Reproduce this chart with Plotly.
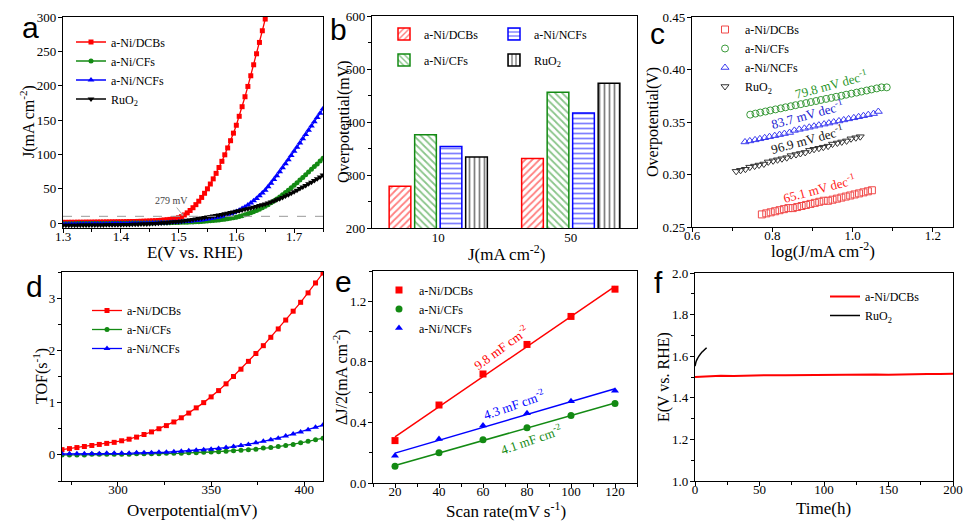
import numpy as np
import plotly.graph_objects as go

W, H = 974, 528
OFF = 8  # the page body offsets the figure by 8 px
def px(x): return (x - OFF) / W
def py(y): return 1 - (y - OFF) / H

RED = "#ff0000"; GREEN = "#138a13"; BLUE = "#0000ff"; BLACK = "#000000"
SERIF = "Liberation Serif"; SANS = "Liberation Sans"

# ---------------- (a) LSV ----------------
pot_a = [1.300,1.305,1.310,1.315,1.320,1.325,1.330,1.335,1.340,1.345,1.350,1.355,1.360,1.365,1.370,1.375,1.380,1.385,1.390,1.395,
         1.400,1.405,1.410,1.415,1.420,1.425,1.430,1.435,1.440,1.445,1.450,1.455,1.460,1.465,1.470,1.475,1.480,1.485,1.490,1.495,
         1.500,1.505,1.510,1.515,1.520,1.525,1.530,1.535,1.540,1.545,1.550,1.555,1.560,1.565,1.570,1.575,1.580,1.585,1.590,1.595,
         1.600,1.605,1.610,1.615,1.620,1.625,1.630,1.635,1.640,1.645,1.650,1.655,1.660,1.665,1.670,1.675,1.680,1.685,1.690,1.695,
         1.700,1.705,1.710,1.715,1.720,1.725,1.730,1.735,1.740,1.745,1.750]
j_dcbs_a = [1.2,1.2,1.3,1.3,1.3,1.4,1.4,1.4,1.5,1.5,1.5,1.6,1.6,1.7,1.7,1.8,1.8,1.9,1.9,2.0,2.0,
            2.1,2.2,2.3,2.4,2.5,2.6,2.7,2.9,3.0,3.2,
            3.4,3.6,3.9,4.2,4.6,5.0,5.5,6.1,6.9,7.9,
            9.5,12,15,18.5,22.5,27,32,37.5,43.5,50,
            57,64.5,72.5,81,90,99.5,109.5,120,131,142.5,
            155.5,169.5,184,199,214.5,230.5,246.5,263,280,297,314]
j_cfs_a = [-0.8,-0.8,-0.7,-0.7,-0.7,-0.6,-0.6,-0.6,-0.5,-0.5,-0.5,-0.4,-0.4,-0.4,-0.3,-0.3,-0.3,-0.2,-0.2,-0.2,-0.1,
           -0.1,0,0,0.1,0.1,0.2,0.2,0.3,0.3,0.4,
           0.4,0.5,0.5,0.6,0.7,0.7,0.8,0.9,1.0,1.1,
           1.2,1.3,1.5,1.6,1.8,2.0,2.2,2.5,2.8,3.1,
           3.4,3.8,4.2,4.7,5.2,5.8,6.4,7.1,7.9,8.8,
           9.8,11,12.3,13.7,15.2,16.8,18.5,20.4,22.4,24.6,
           27,29.6,32.3,35.2,38.2,41.3,44.6,48,51.6,55.3,
           59,62.8,66.6,70.5,74.4,78.3,82.3,86.3,90.4,94.5]
j_ncfs_a = [-1.5,-1.5,-1.5,-1.4,-1.4,-1.4,-1.3,-1.3,-1.3,-1.2,-1.2,-1.2,-1.1,-1.1,-1.0,-1.0,-1.0,-0.9,-0.9,-0.8,-0.8,
            -0.7,-0.7,-0.6,-0.5,-0.5,-0.4,-0.3,-0.2,-0.1,0,
            0.1,0.2,0.3,0.5,0.6,0.8,1.0,1.2,1.4,1.7,
            2.0,2.3,2.6,3.0,3.4,3.8,4.3,4.8,5.4,6.0,
            6.7,7.4,8.2,9.1,10.1,11.2,12.4,13.8,15.3,17,
            19,21.2,23.7,26.4,29.3,32.5,36,39.8,43.8,48,
            53,58,63.5,69,74.8,80.6,86.5,92.4,98.4,104.5,
            110.6,116.7,122.8,129,135.2,141.4,147.6,153.8,160,166.5]
j_ruo2_a = [-3.0,-3.0,-3.0,-2.9,-2.9,-2.9,-2.8,-2.8,-2.8,-2.7,-2.7,-2.6,-2.6,-2.5,-2.5,-2.4,-2.4,-2.3,-2.2,-2.2,-2.1,
            -2.0,-1.9,-1.8,-1.7,-1.6,-1.5,-1.3,-1.2,-1.0,-0.8,
            -0.6,-0.4,-0.1,0.2,0.5,0.8,1.2,1.6,2.0,2.5,
            3.0,3.5,4.1,4.7,5.3,6.0,6.7,7.4,8.1,8.9,
            9.6,10.4,11.2,12.0,12.8,13.6,14.5,15.4,16.3,17.2,
            18.1,19.1,20.1,21.1,22.2,23.3,24.4,25.6,26.8,28,
            29.4,30.9,32.4,34,35.7,37.5,39.4,41.4,43.5,45.7,
            48,50.3,52.6,54.9,57.3,59.7,62.2,64.7,67.3,70]
j_ref_a = 10
eta10_label = "279 mV"
eta10_pot = 1.508

# ---------------- (b) overpotential bars ----------------
cats_b = ["10", "50"]
eta_dcbs_b = [279, 331]
eta_cfs_b = [376, 456]
eta_ncfs_b = [354, 417]
eta_ruo2_b = [334, 473]

# ---------------- (c) Tafel ----------------
lx_dcbs = [0.774,0.785,0.796,0.807,0.818,0.829,0.840,0.851,0.862,0.873,0.884,0.895,0.906,0.917,0.928,0.939,0.950,0.961,0.972,0.983,0.994,1.005,1.016,1.027,1.038,1.048]
ly_dcbs = [0.262,0.263,0.264,0.265,0.266,0.267,0.268,0.268,0.269,0.270,0.271,0.272,0.273,0.274,0.275,0.275,0.276,0.277,0.278,0.279,0.280,0.281,0.282,0.283,0.284,0.285]
lx_cfs = [0.745,0.758,0.770,0.783,0.795,0.808,0.821,0.833,0.846,0.858,0.871,0.884,0.896,0.909,0.921,0.934,0.947,0.959,0.972,0.984,0.997,1.010,1.022,1.035,1.047,1.060,1.072,1.085]
ly_cfs = [0.357,0.358,0.359,0.360,0.361,0.362,0.363,0.364,0.365,0.366,0.367,0.368,0.369,0.370,0.371,0.372,0.373,0.374,0.375,0.376,0.377,0.378,0.379,0.380,0.381,0.382,0.383,0.383]
lx_ncfs = [0.732,0.744,0.757,0.769,0.781,0.793,0.806,0.818,0.830,0.843,0.855,0.867,0.880,0.892,0.904,0.916,0.929,0.941,0.953,0.966,0.978,0.990,1.003,1.015,1.027,1.039,1.052,1.064]
ly_ncfs = [0.331,0.332,0.333,0.334,0.335,0.336,0.337,0.338,0.339,0.340,0.342,0.343,0.344,0.345,0.346,0.347,0.348,0.349,0.350,0.351,0.352,0.353,0.354,0.355,0.356,0.357,0.358,0.360]
lx_ruo2 = [0.710,0.721,0.733,0.744,0.756,0.767,0.779,0.790,0.802,0.813,0.824,0.836,0.847,0.859,0.870,0.882,0.893,0.904,0.916,0.927,0.939,0.950,0.962,0.973,0.985,0.996,1.008,1.019]
ly_ruo2 = [0.303,0.304,0.305,0.307,0.308,0.309,0.310,0.312,0.313,0.314,0.315,0.316,0.318,0.319,0.320,0.321,0.323,0.324,0.325,0.326,0.327,0.329,0.330,0.331,0.332,0.334,0.335,0.336]
tafel_labels = ["79.8", "83.7", "96.9", "65.1"]

# ---------------- (d) TOF ----------------
eta_d = [270,274,278,282,286,290,294,298,302,306,310,314,318,322,326,330,334,338,342,346,350,354,358,362,366,370,374,378,382,386,390,394,398,402,406,410]
tof_dcbs = [0.10,0.12,0.14,0.16,0.18,0.20,0.22,0.24,0.27,0.30,0.34,0.39,0.44,0.50,0.56,0.63,0.71,0.80,0.90,1.00,1.11,1.23,1.36,1.50,1.64,1.79,1.94,2.09,2.25,2.41,2.58,2.75,2.92,3.10,3.29,3.48]
tof_cfs = [0.00,0.00,0.00,0.00,0.01,0.01,0.01,0.01,0.01,0.01,0.02,0.02,0.02,0.02,0.03,0.03,0.03,0.04,0.04,0.05,0.055,0.06,0.07,0.08,0.09,0.10,0.11,0.13,0.14,0.16,0.18,0.20,0.23,0.26,0.29,0.32]
tof_ncfs = [0.02,0.02,0.02,0.02,0.02,0.02,0.03,0.03,0.03,0.03,0.04,0.04,0.04,0.05,0.05,0.06,0.07,0.08,0.09,0.10,0.11,0.12,0.14,0.16,0.18,0.20,0.23,0.26,0.29,0.32,0.36,0.40,0.44,0.48,0.53,0.57]

# ---------------- (e) Cdl ----------------
scan_e = [20, 40, 60, 80, 100, 120]
dj_dcbs = [0.28, 0.515, 0.72, 0.915, 1.10, 1.28]
dj_cfs = [0.11, 0.20, 0.285, 0.365, 0.445, 0.525]
dj_ncfs = [0.18, 0.29, 0.38, 0.46, 0.54, 0.61]
cdl_labels = ["9.8", "4.3", "4.1"]

# ---------------- (f) stability ----------------
t_dcbs = [0,10,20,30,40,50,60,70,80,90,100,110,120,130,140,150,160,170,180,190,200]
e_dcbs = [1.500,1.504,1.506,1.505,1.507,1.509,1.509,1.508,1.509,1.510,1.511,1.511,1.511,1.512,1.512,1.511,1.513,1.514,1.514,1.515,1.516]
t_ruo2 = [0,0.5,1,2,3,4,5,6,7,8,9]
e_ruo2 = [1.552,1.566,1.577,1.590,1.600,1.609,1.617,1.623,1.629,1.635,1.641]

fig = go.Figure()

# (a)
for name, ys, col, sym, sz in [("a-Ni/DCBs", j_dcbs_a, RED, "square", 5),
                                ("a-Ni/CFs", j_cfs_a, GREEN, "circle", 5),
                                ("a-Ni/NCFs", j_ncfs_a, BLUE, "triangle-up", 6),
                                ("RuO<sub>2</sub>", j_ruo2_a, BLACK, "triangle-down", 6)]:
    fig.add_trace(go.Scatter(x=pot_a[:len(ys)], y=ys, mode="lines+markers", name=name,
                             line=dict(color=col, width=1.3), marker=dict(symbol=sym, size=sz, color=col),
                             xaxis="x", yaxis="y", legend="legend"))

# (b)
for name, ys, col, shp, lg in [("a-Ni/DCBs", eta_dcbs_b, RED, "/", "legend2"),
                                ("a-Ni/CFs", eta_cfs_b, GREEN, "\\", "legend2"),
                                ("a-Ni/NCFs", eta_ncfs_b, BLUE, "-", "legend3"),
                                ("RuO<sub>2</sub>", eta_ruo2_b, BLACK, "|", "legend3")]:
    fig.add_trace(go.Bar(x=cats_b, y=ys, name=name, legendgroup="b_" + name,
                         marker=dict(color="white", line=dict(color=col, width=1.5),
                                     pattern=dict(shape=shp, fgcolor=col, size=5, solidity=0.35)),
                         xaxis="x2", yaxis="y2", legend=lg))

# (c)
for name, xs, ys, col, sym in [("a-Ni/DCBs", lx_dcbs, ly_dcbs, "#f04848", "square-open"),
                                ("a-Ni/CFs", lx_cfs, ly_cfs, "#3a9a3a", "circle-open"),
                                ("a-Ni/NCFs", lx_ncfs, ly_ncfs, "#3c3cf0", "triangle-up-open"),
                                ("RuO<sub>2</sub>", lx_ruo2, ly_ruo2, "#333333", "triangle-down-open")]:
    fig.add_trace(go.Scatter(x=xs, y=ys, mode="markers", name=name,
                             marker=dict(symbol=sym, size=7, color=col, line=dict(width=1)),
                             xaxis="x3", yaxis="y3", legend="legend4"))

# (d)
for name, ys, col, sym, sz in [("a-Ni/DCBs", tof_dcbs, RED, "square", 5),
                                ("a-Ni/CFs", tof_cfs, GREEN, "circle", 5),
                                ("a-Ni/NCFs", tof_ncfs, BLUE, "triangle-up", 6)]:
    fig.add_trace(go.Scatter(x=eta_d, y=ys, mode="lines+markers", name=name,
                             line=dict(color=col, width=1.3), marker=dict(symbol=sym, size=sz, color=col),
                             xaxis="x4", yaxis="y4", legend="legend5"))

# (e)
for name, ys, col, sym in [("a-Ni/DCBs", dj_dcbs, RED, "square"),
                            ("a-Ni/CFs", dj_cfs, GREEN, "circle"),
                            ("a-Ni/NCFs", dj_ncfs, BLUE, "triangle-up")]:
    k, b = np.polyfit(scan_e, ys, 1)
    xfit = [min(scan_e), max(scan_e)]
    fig.add_trace(go.Scatter(x=xfit, y=[k * v + b for v in xfit], mode="lines", showlegend=False,
                             line=dict(color=col, width=1.5), xaxis="x5", yaxis="y5"))
    fig.add_trace(go.Scatter(x=scan_e, y=ys, mode="markers", name=name,
                             marker=dict(symbol=sym, size=7, color=col),
                             xaxis="x5", yaxis="y5", legend="legend6"))

# (f)
fig.add_trace(go.Scatter(x=t_dcbs, y=e_dcbs, mode="lines", name="a-Ni/DCBs", line=dict(color=RED, width=2),
                         xaxis="x6", yaxis="y6", legend="legend7"))
fig.add_trace(go.Scatter(x=t_ruo2, y=e_ruo2, mode="lines", name="RuO<sub>2</sub>", line=dict(color=BLACK, width=1.5, shape="spline"),
                         xaxis="x6", yaxis="y6", legend="legend7"))

TICKF = dict(family=SERIF, size=13, color="black")

def axis(domain, anchor, rng=None, dtick=None, tick0=None, minor=None, fmt=None, ticks="outside", standoff=0, **kw):
    d = dict(domain=domain, anchor=anchor, showline=True, mirror=True, linecolor="black", linewidth=1.3,
             ticks=ticks, ticklen=4, tickwidth=1.2, tickcolor="black", showgrid=False, zeroline=False,
             tickfont=TICKF, automargin=False, ticklabelstandoff=standoff)
    if rng is not None:
        d["range"] = rng
    if dtick is not None:
        d["dtick"] = dtick
    if tick0 is not None:
        d["tick0"] = tick0
    if minor is not None:
        d["minor"] = dict(dtick=minor, ticks="outside", ticklen=2.5, tickwidth=1, tickcolor="black")
    if fmt is not None:
        d["tickformat"] = fmt
    d.update(kw)
    return d

xa = [px(63), px(323)]; ya = [py(228), py(17)]
xb = [px(372), px(637)]; yb = [py(228), py(16)]
xc = [px(692), px(953)]; yc = [py(227), py(17)]
xd = [px(62), px(323)]; yd = [py(481), py(272)]
xe = [px(373), px(637)]; ye = [py(483), py(271)]
xf = [px(695), px(953)]; yf = [py(481), py(273)]

leg_common = dict(bgcolor="rgba(0,0,0,0)", font=dict(family=SERIF, size=12, color="black"),
                  xanchor="left", yanchor="top", tracegroupgap=0, itemwidth=30)
leg_b = dict(leg_common, traceorder="grouped", tracegroupgap=7)

XS = -8
fig.update_layout(
    width=W, height=H, margin=dict(l=0, r=0, t=0, b=0, autoexpand=False),
    plot_bgcolor="white", paper_bgcolor="white",
    font=dict(family=SERIF, size=13, color="black"),
    barmode="group", bargap=0.23, bargroupgap=0.15,
    xaxis=axis(xa, "y", [1.3, 1.75], dtick=0.1, tick0=1.3, minor=0.05, fmt=".1f", standoff=XS),
    yaxis=axis(ya, "x", [-7, 300], dtick=50, tick0=0, standoff=-1),
    xaxis2=axis(xb, "y2", [-0.5, 1.5], ticks="", type="category", standoff=-3),
    yaxis2=axis(yb, "x2", [200, 600], dtick=100, minor=50, standoff=-1),
    xaxis3=axis(xc, "y3", [0.6, 1.25], dtick=0.2, tick0=0.6, minor=0.1, fmt=".1f", standoff=XS),
    yaxis3=axis(yc, "x3", [0.25, 0.45], dtick=0.05, tick0=0.25, fmt=".2f", standoff=-1),
    xaxis4=axis(xd, "y4", [270, 410], dtick=50, tick0=300, minor=25, standoff=XS),
    yaxis4=axis(yd, "x4", [-0.5, 3.5], dtick=1, tick0=0, minor=0.5, standoff=-1),
    xaxis5=axis(xe, "y5", [10, 130], dtick=20, tick0=20, minor=10, standoff=XS),
    yaxis5=axis(ye, "x5", [0, 1.4], dtick=0.4, tick0=0, minor=0.2, fmt=".1f", standoff=-1),
    xaxis6=axis(xf, "y6", [0, 200], dtick=50, tick0=0, minor=25, standoff=XS),
    yaxis6=axis(yf, "x6", [1.0, 2.0], dtick=0.2, tick0=1.0, minor=0.1, fmt=".1f", standoff=-1),
    legend=dict(leg_common, x=px(71), y=py(27.5)),
    legend2=dict(leg_b, x=px(384), y=py(19.5)),
    legend3=dict(leg_b, x=px(494), y=py(19.5)),
    legend4=dict(leg_common, x=px(705), y=py(15)),
    legend5=dict(leg_common, x=px(87), y=py(296)),
    legend6=dict(leg_common, x=px(379), y=py(275.5)),
    legend7=dict(leg_common, x=px(825), y=py(282)),
)

# axis titles (placed as text in figure coordinates)
TITX = dict(family=SERIF, size=17, color="black")
TITY = dict(family=SERIF, size=16, color="black")
titles = [("E(V vs. RHE)", 195, 252, 0), ("J(mA cm<sup>-2</sup>)", 27, 122, -90),
          ("J(mA cm<sup>-2</sup>)", 506, 253, 0), ("Overpotential(mV)", 344, 122, -90),
          ("log(J/mA cm<sup>-2</sup>)", 823, 250, 0), ("Overpotential(V)", 653, 122, -90),
          ("Overpotential(mV)", 192, 510, 0), ("TOF(s<sup>-1</sup>)", 40, 376, -90),
          ("Scan rate(mV s<sup>-1</sup>)", 506, 510, 0), ("ΔJ/2(mA cm<sup>-2</sup>)", 340, 377, -90),
          ("Time(h)", 823, 508, 0), ("E(V vs. RHE)", 664, 377, -90)]
for txt, tx, ty, ang in titles:
    fig.add_annotation(x=px(tx), y=py(ty), xref="paper", yref="paper", text=txt, showarrow=False,
                       textangle=ang, xanchor="center", yanchor="middle", font=TITX if ang == 0 else TITY)

# reference line at 10 mA cm-2 in (a)
fig.add_shape(type="line", xref="x domain", x0=0, x1=1, yref="y", y0=j_ref_a, y1=j_ref_a,
              line=dict(color="#9a9a9a", width=1, dash="dash"))
fig.add_annotation(x=eta10_pot, y=j_ref_a + 1, xref="x", yref="y", ax=1.487, ay=33, axref="x", ayref="y",
                   text=eta10_label, showarrow=True, arrowhead=1, arrowsize=0.7, arrowwidth=1, arrowcolor="#aaaaaa",
                   font=dict(family=SERIF, size=10, color="#444444"))

# Tafel slope labels (c)
for lab, (xx, yy), col in zip(tafel_labels, [(0.946, 0.386), (0.887, 0.3575), (0.887, 0.3336), (0.917, 0.287)],
                              ["#2a962a", "#2020d0", "#111111", "#ff2020"]):
    fig.add_annotation(x=xx, y=yy, xref="x3", yref="y3", text=f"{lab} mV dec<sup>-1</sup>", showarrow=False,
                       textangle=-15, font=dict(family=SERIF, size=13, color=col))

# Cdl labels (e)
for lab, (xx, yy), col, ang in zip(cdl_labels, [(68.3, 0.896), (74.3, 0.519), (82.0, 0.293)],
                                   [RED, BLUE, GREEN], [-36, -19, -19]):
    fig.add_annotation(x=xx, y=yy, xref="x5", yref="y5", text=f"{lab} mF cm<sup>-2</sup>", showarrow=False,
                       textangle=ang, font=dict(family=SERIF, size=13, color=col))

# panel letters
for letter, (lx, ly) in zip("abcdef", [(30, 28), (338, 30), (657.5, 33.4), (34, 286), (343, 281.4), (658.5, 282.5)]):
    fig.add_annotation(x=px(lx), y=py(ly), xref="paper", yref="paper", text=letter, showarrow=False,
                       xanchor="center", yanchor="middle", font=dict(family=SANS, size=30, color="black"))

fig.write_html("out.html")
